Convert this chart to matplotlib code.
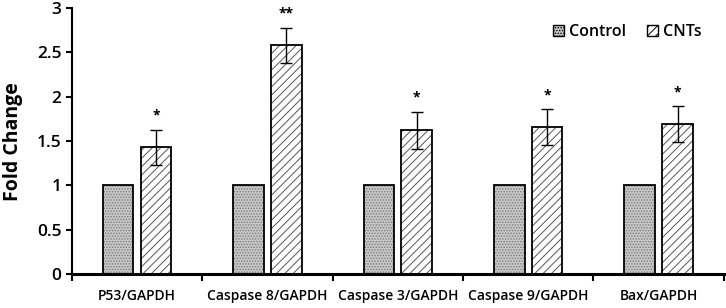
#!/usr/bin/env python3
"""Fold change of apoptosis genes, control vs CNTs."""

import matplotlib

matplotlib.use("Agg")
import matplotlib.pyplot as plt
import numpy as np
from matplotlib.patches import Patch

categories = ["P53/GAPDH", "Caspase 8/GAPDH", "Caspase 3/GAPDH", "Caspase 9/GAPDH", "Bax/GAPDH"]
control = [1.0, 1.0, 1.0, 1.0, 1.0]
cnts = [1.43, 2.58, 1.62, 1.66, 1.69]
cnts_err = [0.20, 0.20, 0.21, 0.20, 0.20]
stars = ["*", "**", "*", "*", "*"]

plt.rcParams["font.family"] = ["Open Sans", "DejaVu Sans"]
plt.rcParams["hatch.linewidth"] = 0.7


def main() -> None:
    fig = plt.figure(figsize=(7.26, 3.08), dpi=100)
    ax = fig.add_axes([0.099, 0.110, 0.898, 0.864])

    x = np.arange(len(categories))
    width = 0.235
    off = 0.145

    # control: light grey stipple, then black outline on top
    ax.bar(x - off, control, width, color="#c8c8c8", edgecolor="#7a7a7a",
           linewidth=0, hatch="......", zorder=2)
    ax.bar(x - off, control, width, fill=False, edgecolor="black", linewidth=1.3, zorder=2.5)
    ax.bar(x + off, cnts, width, color="white", edgecolor="#555555",
           linewidth=0, hatch="////", zorder=2)
    ax.bar(x + off, cnts, width, fill=False, edgecolor="black", linewidth=1.3, zorder=2.5)
    ax.errorbar(x + off, cnts, yerr=cnts_err, fmt="none", ecolor="black",
                elinewidth=1.0, capsize=4, capthick=1.0, zorder=3)

    for xi, v, e, s in zip(x + off, cnts, cnts_err, stars):
        ax.text(xi, v + e + 0.08, s, ha="center", va="bottom", fontsize=10, fontweight="bold")

    ax.set_xlim(-0.5, len(categories) - 0.5)
    ax.set_ylim(0, 3)
    ax.set_yticks(np.arange(0, 3.01, 0.5))
    ax.set_yticklabels(["0", "0.5", "1", "1.5", "2", "2.5", "3"])
    ax.set_xticks(x)
    ax.set_xticklabels(categories)
    ax.set_xticks(np.arange(-0.5, len(categories)), minor=True)
    ax.tick_params(axis="x", which="major", length=0, pad=11, labelsize=10)
    ax.tick_params(axis="x", which="minor", length=5, width=1.5, direction="out")
    ax.tick_params(axis="y", length=4, width=1.5, direction="out", labelsize=12.5)
    for lbl in ax.get_xticklabels() + ax.get_yticklabels():
        lbl.set_fontweight("semibold")

    ax.set_ylabel("Fold Change", fontsize=14, fontweight="bold", labelpad=10)
    ax.spines["top"].set_visible(False)
    ax.spines["right"].set_visible(False)
    ax.spines["left"].set_linewidth(1.5)
    ax.spines["bottom"].set_linewidth(2.2)

    handles = [
        Patch(facecolor="#c8c8c8", edgecolor="black", hatch="......", label="Control"),
        Patch(facecolor="white", edgecolor="black", hatch="////", label="CNTs"),
    ]
    leg = ax.legend(handles=handles, loc="upper right", bbox_to_anchor=(0.988, 0.995), ncol=2,
                    frameon=False, fontsize=11.5, handlelength=0.7, handleheight=0.7,
                    handletextpad=0.3, columnspacing=1.3)
    for t in leg.get_texts():
        t.set_fontweight("semibold")

    fig.savefig("out.png", dpi=100, facecolor="white")
    plt.close(fig)


if __name__ == "__main__":
    main()
